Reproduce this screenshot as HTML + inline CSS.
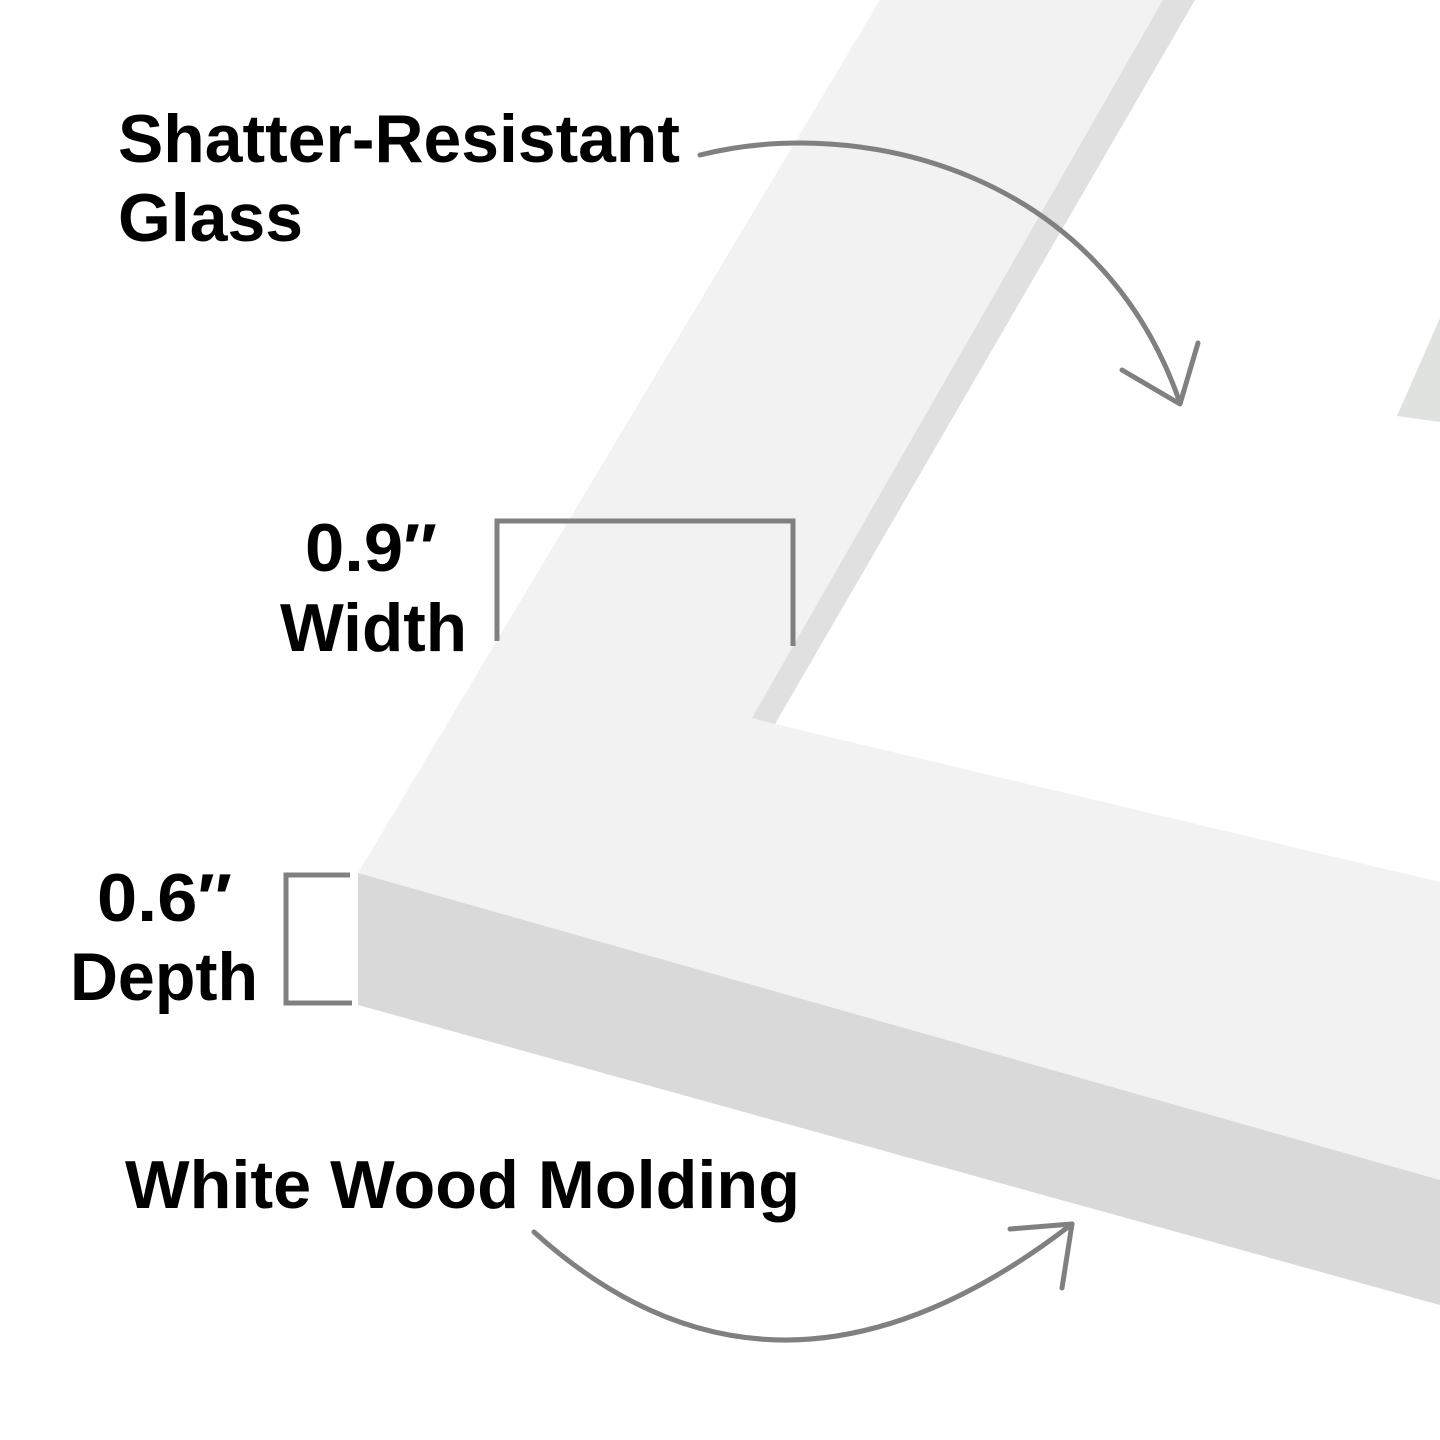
<!DOCTYPE html>
<html><head><meta charset="utf-8"><style>
html,body{margin:0;padding:0;background:#fff;}
svg{display:block;}
text{font-family:"Liberation Sans",sans-serif;font-weight:bold;font-size:68px;fill:#000;}
</style></head><body>
<svg width="1440" height="1440" viewBox="0 0 1440 1440" xmlns="http://www.w3.org/2000/svg">
<rect width="1440" height="1440" fill="#fff"/>
<polygon points="880,0 1195,0 775,724 1440,882 1440,1180 358,873" fill="#f2f2f2"/>
<polygon points="1163,0 1195,0 775,724 752,718" fill="#e0e0e0"/>
<polygon points="358,873 1440,1180 1440,1305 358,1005" fill="#d9d9d9"/>
<polygon points="1397,416 1440,318 1440,422" fill="#dfe3df"/>
<g fill="none" stroke="#808080" stroke-width="5" stroke-linecap="round" stroke-linejoin="round">
<path d="M700,155 C860,115 1100,170 1180,403"/>
<path d="M1122,370 L1180,404 L1198,343"/>
<path d="M534,1232 Q777,1452 1072,1224"/>
<path d="M1010,1229 L1072,1224 L1062,1288"/>
</g>
<g fill="none" stroke="#808080" stroke-width="5">
<path d="M497,641 V521 H793 V646"/>
<path d="M350,875 H286 V1003 H352"/>
</g>
<text x="118" y="162" textLength="562" lengthAdjust="spacingAndGlyphs">Shatter-Resistant</text>
<text x="118" y="241" textLength="185" lengthAdjust="spacingAndGlyphs">Glass</text>
<text x="305" y="571" textLength="132" lengthAdjust="spacingAndGlyphs">0.9″</text>
<text x="280" y="651" textLength="187" lengthAdjust="spacingAndGlyphs">Width</text>
<text x="97" y="921" textLength="135" lengthAdjust="spacingAndGlyphs">0.6″</text>
<text x="70" y="1000" textLength="188" lengthAdjust="spacingAndGlyphs">Depth</text>
<text x="125" y="1208" textLength="675" lengthAdjust="spacingAndGlyphs">White Wood Molding</text>
</svg>
</body></html>
